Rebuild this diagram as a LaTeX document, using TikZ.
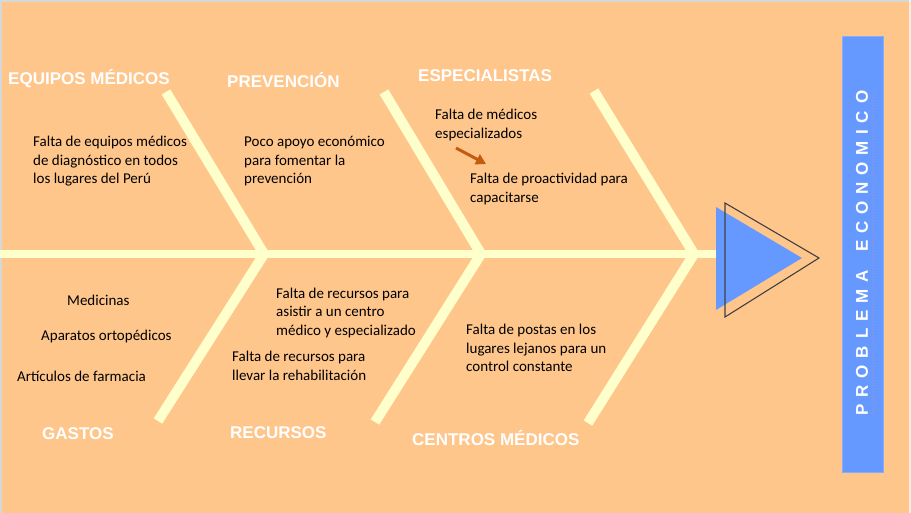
\documentclass[tikz,border=0pt]{standalone}
\usepackage{fontspec}
\usetikzlibrary{arrows.meta}
\newfontfamily\labfont{Liberation Sans}
\newfontfamily\bodyfont{Carlito}
\newfontfamily\vfont[LetterSpace=40]{Liberation Sans}
\definecolor{peach}{RGB}{255,198,140}
\definecolor{boneyellow}{RGB}{255,255,204}
\definecolor{probblue}{RGB}{102,153,255}
\definecolor{arroworange}{RGB}{197,90,17}
\definecolor{edgegray}{RGB}{215,215,215}
\definecolor{spellline}{RGB}{190,140,190}
\tikzset{
  bone/.style={line width=10pt, draw=boneyellow, line cap=butt, line join=miter},
  spine/.style={line width=8pt, draw=boneyellow},
  cat/.style={font=\labfont\bfseries\fontsize{17}{20}\selectfont, text=white, anchor=west, inner sep=0pt},
  txt/.style={font=\bodyfont\fontsize{15}{18.5}\selectfont, text=black, anchor=west, align=left, inner sep=0pt},
}
\begin{document}
\begin{tikzpicture}[x=1pt,y=-1pt]
\useasboundingbox (0,0) rectangle (911,513);
\fill[peach] (0,0) rectangle (911,513);
\draw[edgegray, line width=2pt] (0,1) -- (911,1);
\draw[edgegray, line width=2pt] (1,0) -- (1,513);
\fill[white!70!peach] (909,0) rectangle (911,513);

% spine
\coordinate (s0) at (0,254);
\coordinate (s1) at (716,254);
\draw[spine] (s0) -- (s1);

% bones
\coordinate (t1) at (166,92);  \coordinate (j1) at (264,254); \coordinate (b1) at (158,421);
\coordinate (t2) at (384,92);  \coordinate (j2) at (481,254); \coordinate (b2) at (375,422);
\coordinate (t3) at (594,91);  \coordinate (j3) at (694,254); \coordinate (b3) at (588,423);
\draw[bone] (t1) -- (j1) -- (b1);
\draw[bone] (t2) -- (j2) -- (b2);
\draw[bone] (t3) -- (j3) -- (b3);

% head
\coordinate (h1) at (716,207); \coordinate (h2) at (716,310); \coordinate (h3) at (802,258);
\fill[probblue] (h1) -- (h3) -- (h2) -- cycle;
\coordinate (o1) at (725,203); \coordinate (o2) at (725,317); \coordinate (o3) at (819,258);
\draw[black!75, line width=1.1pt, line join=miter] (o1) -- (o3) -- (o2) -- cycle;

% problem box
\node[fill=probblue, draw=probblue!80!white, line width=0.8pt, minimum width=41pt, minimum height=436pt, inner sep=0pt] (prob) at (862.5,254) {};
\node[rotate=90, text=white, font=\vfont\bfseries\fontsize{17}{19}\selectfont, inner sep=0pt] (probtxt) at (862,253) {PROBLEMA\hspace{7pt} ECONOMICO};
\coordinate (u1) at (873.5,417);
\coordinate (u2) at (873.5,90);
\draw[spellline, line width=0.8pt, dotted] (u1) -- (u2);

% category labels
\node[cat] (c1) at (8,79) {EQUIPOS MÉDICOS};
\node[cat] (c2) at (227,80) {PREVENCIÓN};
\node[cat] (c3) at (418,76) {ESPECIALISTAS};
\node[cat] (c4) at (42,434) {GASTOS};
\node[cat] (c5) at (230,433) {RECURSOS};
\node[cat] (c6) at (412,438) {CENTROS MÉDICOS};

% causes
\node[txt] (e1) at (33,161.5) {Falta de equipos médicos\\de diagnóstico en todos\\los lugares del Perú};
\node[txt] (p1) at (244,161.5) {Poco apoyo económico\\para fomentar la\\prevención};
\node[txt] (s1t) at (435,125) {Falta de médicos\\especializados};
\node[txt] (s2t) at (470,189) {Falta de proactividad para\\capacitarse};
\node[txt] (g1) at (67,300) {Medicinas};
\node[txt] (g2) at (41,337) {Aparatos ortopédicos};
\node[txt] (g3) at (17,376) {Artículos de farmacia};
\node[txt] (r1) at (276,313) {Falta de recursos para\\asistir a un centro\\médico y especializado};
\node[txt] (r2) at (232,366) {Falta de recursos para\\llevar la rehabilitación};
\node[txt] (m1) at (466,348) {Falta de postas en los\\lugares lejanos para un\\control constante};

% arrow
\coordinate (a1) at (456,148);
\coordinate (a2) at (486,164);
\draw[arroworange, line width=3pt, -{Triangle[length=10pt,width=11pt]}] (a1) -- (a2);
\end{tikzpicture}
\end{document}
